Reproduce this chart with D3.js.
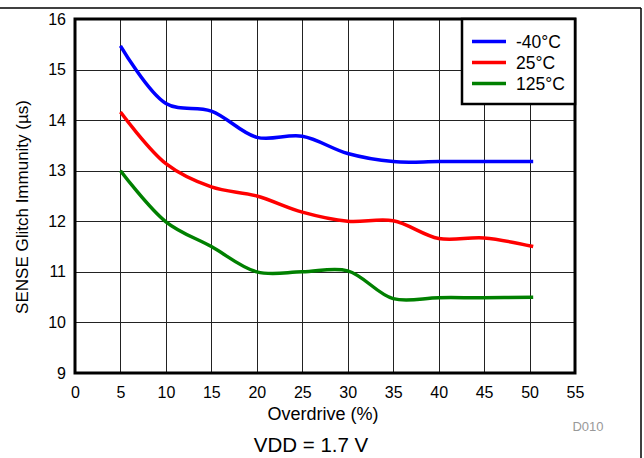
<!DOCTYPE html>
<html>
<head>
<meta charset="utf-8">
<script src="https://cdn.jsdelivr.net/npm/d3@7"></script>
<style>
  html, body { margin: 0; padding: 0; background: #fff; }
  svg { display: block; }
  text { font-family: "Liberation Sans", Arial, sans-serif; }
</style>
</head>
<body>
<svg id="chart" width="644" height="458"></svg>
<script>
// ---- data ----
const overdrive = [5, 10, 15, 20, 25, 30, 35, 40, 45, 50.4];
const seriesNames = ["-40°C", "25°C", "125°C"];
const seriesColors = ["#0000FF", "#FF0000", "#008000"];
const immunityM40 = [15.47, 14.33, 14.18, 13.66, 13.68, 13.34, 13.18, 13.18, 13.18, 13.18];
const immunity25 = [14.16, 13.14, 12.68, 12.50, 12.18, 12.00, 12.01, 11.66, 11.67, 11.50];
const immunity125 = [13.00, 11.99, 11.50, 11.00, 11.00, 11.02, 10.47, 10.49, 10.49, 10.50];
const xTicks = [0, 5, 10, 15, 20, 25, 30, 35, 40, 45, 50, 55];
const yTicks = [9, 10, 11, 12, 13, 14, 15, 16];
const xTitle = "Overdrive (%)";
const yTitle = "SENSE Glitch Immunity (µs)";
const caption = "VDD = 1.7 V";
const figId = "D010";

const allSeries = [immunityM40, immunity25, immunity125];

const svg = d3.select("#chart");
const pL = 75, pR = 575, pT = 19, pB = 373;

const x = d3.scaleLinear().domain([0, 55]).range([pL, pR]);
const y = d3.scaleLinear().domain([9, 16]).range([pB, pT]);

// outer frame fragments
svg.append("line").attr("x1", 0).attr("x2", 641).attr("y1", 8).attr("y2", 8)
  .attr("stroke", "#000").attr("stroke-width", 1.5);
svg.append("line").attr("x1", 641).attr("x2", 641).attr("y1", 8).attr("y2", 458)
  .attr("stroke", "#000").attr("stroke-width", 1.5);

// grid
const grid = svg.append("g");
grid.selectAll(".vg").data(xTicks.slice(1, -1)).join("line")
  .attr("x1", d => Math.round(x(d)) + 0.5).attr("x2", d => Math.round(x(d)) + 0.5)
  .attr("y1", pT).attr("y2", pB)
  .attr("stroke", "#222").attr("stroke-width", 1);
grid.selectAll(".hg").data(yTicks.slice(1, -1)).join("line")
  .attr("x1", pL).attr("x2", pR)
  .attr("y1", d => Math.round(y(d)) + 0.5).attr("y2", d => Math.round(y(d)) + 0.5)
  .attr("stroke", "#222").attr("stroke-width", 1);

// axes (labels only)
const xAxis = d3.axisBottom(x).tickValues(xTicks).tickSize(0).tickPadding(14).tickFormat(d3.format("d"));
const gx = svg.append("g").attr("transform", `translate(0,${pB})`).call(xAxis);
gx.select(".domain").remove();
gx.selectAll("text").attr("font-size", 16).attr("fill", "#000")
  .attr("font-family", "'Liberation Sans', Arial, sans-serif");

const yAxis = d3.axisLeft(y).tickValues(yTicks).tickSize(0).tickPadding(9).tickFormat(d3.format("d"));
const gy = svg.append("g").attr("transform", `translate(${pL},0)`).call(yAxis);
gy.select(".domain").remove();
gy.selectAll("text").attr("font-size", 16).attr("fill", "#000")
  .attr("font-family", "'Liberation Sans', Arial, sans-serif");

// lines
const line = d3.line().x(d => x(d[0])).y(d => y(d[1])).curve(d3.curveCatmullRom.alpha(0.5));
allSeries.forEach((vals, i) => {
  svg.append("path")
    .datum(overdrive.map((o, j) => [o, vals[j]]))
    .attr("d", line)
    .attr("fill", "none")
    .attr("stroke", seriesColors[i])
    .attr("stroke-width", 3.5)
    .attr("stroke-linecap", "butt");
});

// plot border
svg.append("rect").attr("x", pL).attr("y", pT).attr("width", pR - pL).attr("height", pB - pT)
  .attr("fill", "none").attr("stroke", "#000").attr("stroke-width", 3);

// legend
const lg = svg.append("g");
lg.append("rect").attr("x", 462).attr("y", pT).attr("width", pR - 462).attr("height", 85)
  .attr("fill", "#fff").attr("stroke", "#000").attr("stroke-width", 2.5);
seriesNames.forEach((n, i) => {
  const ly = 41.5 + i * 21;
  lg.append("line").attr("x1", 472).attr("x2", 506).attr("y1", ly).attr("y2", ly)
    .attr("stroke", seriesColors[i]).attr("stroke-width", 3.5);
  lg.append("text").attr("x", 516).attr("y", ly + 6.5).attr("font-size", 17.5).attr("fill", "#000").text(n);
});

// titles
svg.append("text").attr("x", 323).attr("y", 420).attr("text-anchor", "middle")
  .attr("font-size", 18).attr("fill", "#000").text(xTitle);
svg.append("text").attr("transform", `translate(28,207) rotate(-90)`).attr("text-anchor", "middle")
  .attr("font-size", 17).attr("fill", "#000").text(yTitle);
svg.append("text").attr("x", 588).attr("y", 431).attr("text-anchor", "middle")
  .attr("font-size", 13).attr("fill", "#999").text(figId);
svg.append("text").attr("x", 311).attr("y", 452).attr("text-anchor", "middle")
  .attr("font-size", 20.5).attr("fill", "#000").text(caption);
</script>
</body>
</html>
